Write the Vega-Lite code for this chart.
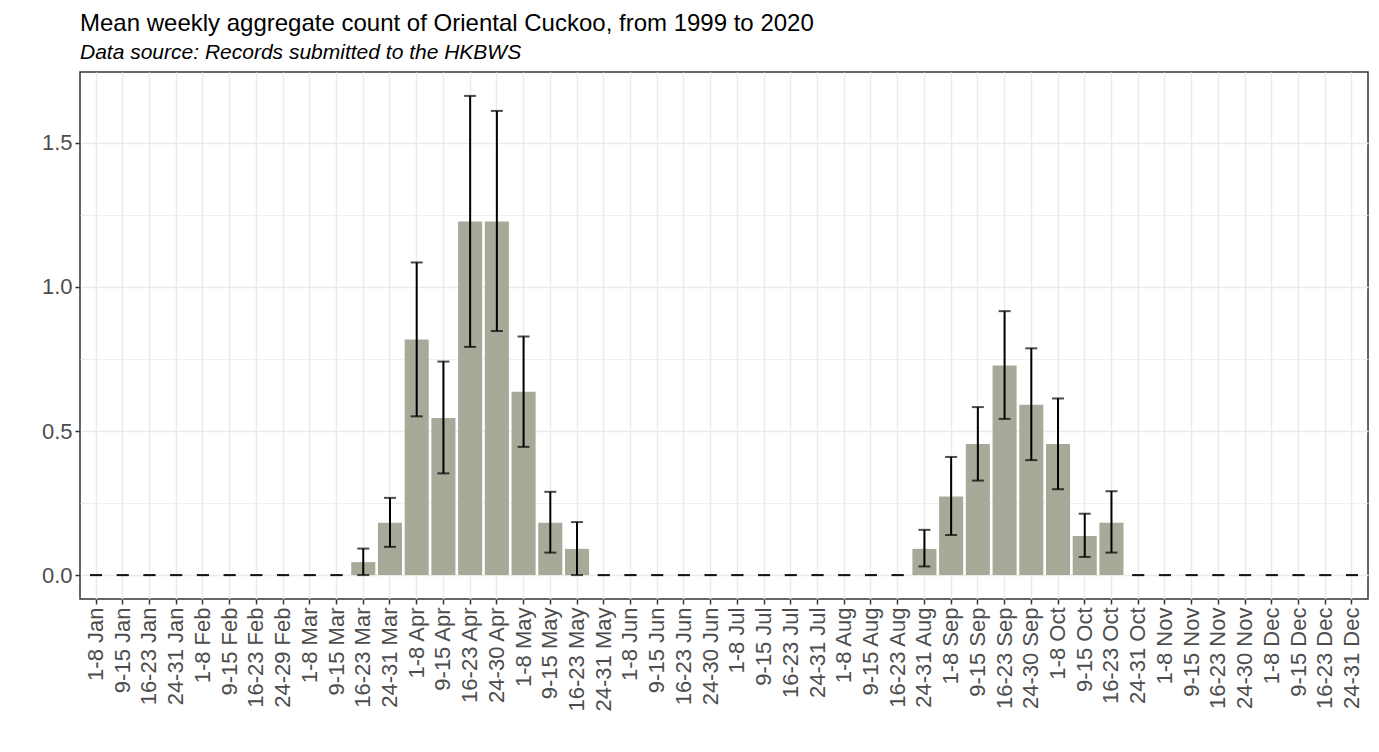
{
  "$schema": "https://vega.github.io/schema/vega-lite/v6.json",
  "autosize": {"type": "none"},
  "width": 1288,
  "height": 527,
  "padding": {"left": 80, "top": 72, "right": 11, "bottom": 153},
  "background": "white",
  "title": {
    "text": "Mean weekly aggregate count of Oriental Cuckoo, from 1999 to 2020",
    "subtitle": "Data source: Records submitted to the HKBWS",
    "anchor": "start",
    "frame": "group",
    "font": "Liberation Sans",
    "fontSize": 24,
    "fontWeight": "normal",
    "color": "#000000",
    "subtitleFont": "Liberation Sans",
    "subtitleFontSize": 21,
    "subtitleFontStyle": "italic",
    "subtitleColor": "#000000",
    "subtitlePadding": 6,
    "offset": 9
  },
  "config": {
    "view": {"stroke": "#333333", "strokeWidth": 1.5},
    "axis": {
      "labelFont": "Liberation Sans",
      "labelFontSize": 22,
      "labelColor": "#4d4d4d",
      "tickColor": "#333333",
      "tickWidth": 1.5,
      "tickSize": 5,
      "labelPadding": 3,
      "domain": false,
      "gridColor": "#ebebeb",
      "gridWidth": 1.5,
      "labelOverlap": false,
      "title": null
    }
  },
  "data": {
    "values": [
      {"week": "1-8 Jan", "mean": 0, "lo": 0, "hi": 0},
      {"week": "9-15 Jan", "mean": 0, "lo": 0, "hi": 0},
      {"week": "16-23 Jan", "mean": 0, "lo": 0, "hi": 0},
      {"week": "24-31 Jan", "mean": 0, "lo": 0, "hi": 0},
      {"week": "1-8 Feb", "mean": 0, "lo": 0, "hi": 0},
      {"week": "9-15 Feb", "mean": 0, "lo": 0, "hi": 0},
      {"week": "16-23 Feb", "mean": 0, "lo": 0, "hi": 0},
      {"week": "24-29 Feb", "mean": 0, "lo": 0, "hi": 0},
      {"week": "1-8 Mar", "mean": 0, "lo": 0, "hi": 0},
      {"week": "9-15 Mar", "mean": 0, "lo": 0, "hi": 0},
      {"week": "16-23 Mar", "mean": 0.045, "lo": 0, "hi": 0.092},
      {"week": "24-31 Mar", "mean": 0.182, "lo": 0.098, "hi": 0.268},
      {"week": "1-8 Apr", "mean": 0.818, "lo": 0.551, "hi": 1.085},
      {"week": "9-15 Apr", "mean": 0.545, "lo": 0.353, "hi": 0.741},
      {"week": "16-23 Apr", "mean": 1.227, "lo": 0.792, "hi": 1.663},
      {"week": "24-30 Apr", "mean": 1.227, "lo": 0.847, "hi": 1.611},
      {"week": "1-8 May", "mean": 0.636, "lo": 0.445, "hi": 0.828},
      {"week": "9-15 May", "mean": 0.182, "lo": 0.078, "hi": 0.289},
      {"week": "16-23 May", "mean": 0.091, "lo": 0, "hi": 0.184},
      {"week": "24-31 May", "mean": 0, "lo": 0, "hi": 0},
      {"week": "1-8 Jun", "mean": 0, "lo": 0, "hi": 0},
      {"week": "9-15 Jun", "mean": 0, "lo": 0, "hi": 0},
      {"week": "16-23 Jun", "mean": 0, "lo": 0, "hi": 0},
      {"week": "24-30 Jun", "mean": 0, "lo": 0, "hi": 0},
      {"week": "1-8 Jul", "mean": 0, "lo": 0, "hi": 0},
      {"week": "9-15 Jul", "mean": 0, "lo": 0, "hi": 0},
      {"week": "16-23 Jul", "mean": 0, "lo": 0, "hi": 0},
      {"week": "24-31 Jul", "mean": 0, "lo": 0, "hi": 0},
      {"week": "1-8 Aug", "mean": 0, "lo": 0, "hi": 0},
      {"week": "9-15 Aug", "mean": 0, "lo": 0, "hi": 0},
      {"week": "16-23 Aug", "mean": 0, "lo": 0, "hi": 0},
      {"week": "24-31 Aug", "mean": 0.091, "lo": 0.03, "hi": 0.157},
      {"week": "1-8 Sep", "mean": 0.273, "lo": 0.139, "hi": 0.41},
      {"week": "9-15 Sep", "mean": 0.455, "lo": 0.328, "hi": 0.583},
      {"week": "16-23 Sep", "mean": 0.727, "lo": 0.542, "hi": 0.916},
      {"week": "24-30 Sep", "mean": 0.591, "lo": 0.399, "hi": 0.787},
      {"week": "1-8 Oct", "mean": 0.455, "lo": 0.298, "hi": 0.613},
      {"week": "9-15 Oct", "mean": 0.136, "lo": 0.063, "hi": 0.213},
      {"week": "16-23 Oct", "mean": 0.182, "lo": 0.078, "hi": 0.291},
      {"week": "24-31 Oct", "mean": 0, "lo": 0, "hi": 0},
      {"week": "1-8 Nov", "mean": 0, "lo": 0, "hi": 0},
      {"week": "9-15 Nov", "mean": 0, "lo": 0, "hi": 0},
      {"week": "16-23 Nov", "mean": 0, "lo": 0, "hi": 0},
      {"week": "24-30 Nov", "mean": 0, "lo": 0, "hi": 0},
      {"week": "1-8 Dec", "mean": 0, "lo": 0, "hi": 0},
      {"week": "9-15 Dec", "mean": 0, "lo": 0, "hi": 0},
      {"week": "16-23 Dec", "mean": 0, "lo": 0, "hi": 0},
      {"week": "24-31 Dec", "mean": 0, "lo": 0, "hi": 0}
    ]
  },
  "encoding": {
    "x": {
      "field": "week",
      "type": "nominal",
      "sort": null,
      "scale": {"paddingInner": 0.1, "paddingOuter": 0.15},
      "axis": {"labelAngle": 270, "grid": true, "bandPosition": 0.5, "labelFontSize": 22}
    }
  },
  "layer": [
    {
      "mark": {"type": "bar", "color": "#a7a999"},
      "encoding": {
        "y": {
          "field": "mean",
          "type": "quantitative",
          "scale": {"domain": [-0.083, 1.746], "nice": false, "zero": false},
          "axis": {
            "values": [0, 0.25, 0.5, 0.75, 1, 1.25, 1.5],
            "labelExpr": "datum.value * 2 % 1 === 0 ? format(datum.value, '.1f') : ''",
            "tickOpacity": {"condition": {"test": "datum.value * 2 % 1 !== 0", "value": 0}, "value": 1},
            "gridWidth": {"condition": {"test": "datum.value * 2 % 1 !== 0", "value": 0.8}, "value": 1.5}
          }
        },
        "y2": {"value": 0}
      }
    },
    {
      "mark": {"type": "rule", "color": "#000000", "strokeWidth": 2},
      "encoding": {
        "y": {"field": "lo", "type": "quantitative"},
        "y2": {"field": "hi"}
      }
    },
    {
      "mark": {"type": "tick", "color": "#000000", "size": 12, "thickness": 2, "orient": "horizontal"},
      "encoding": {
        "y": {"field": "lo", "type": "quantitative"}
      }
    },
    {
      "mark": {"type": "tick", "color": "#000000", "size": 12, "thickness": 2, "orient": "horizontal"},
      "encoding": {
        "y": {"field": "hi", "type": "quantitative"}
      }
    }
  ]
}
